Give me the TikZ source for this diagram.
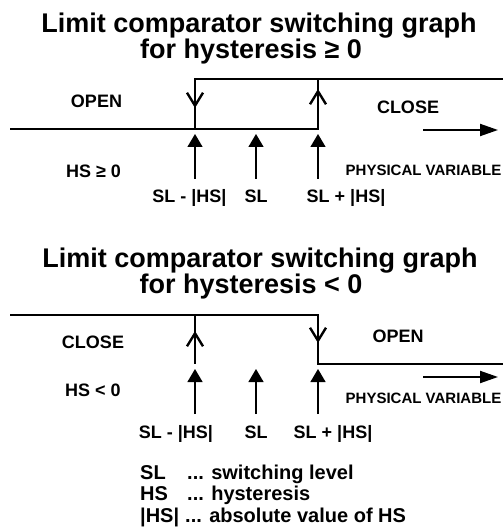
\documentclass[tikz,border=0pt]{standalone}
\usepackage{fontspec}
\setmainfont{Liberation Sans}
\usetikzlibrary{arrows.meta}

\tikzset{
  title/.style={font=\fontsize{27}{31}\selectfont\bfseries, anchor=base, inner sep=0pt},
  lbl/.style={font=\fontsize{18}{21}\selectfont\bfseries, anchor=base, inner sep=0pt},
  small/.style={font=\fontsize{15}{18}\selectfont\bfseries, anchor=base, inner sep=0pt},
  key/.style={font=\fontsize{20}{23}\selectfont\bfseries, anchor=base west, inner sep=0pt},
  level/.style={line width=2.4pt, line join=miter},
  barb/.style={line width=2.4pt, -{Straight Barb[length=13pt,width=16pt]}},
  pointer/.style={line width=1.3pt, -{Triangle[length=13pt,width=15pt]}},
  axis/.style={line width=2pt, -{Triangle[length=18pt,width=12pt]}}
}

\begin{document}
\begin{tikzpicture}[x=1pt, y=-1pt]
        \useasboundingbox (0,0) rectangle (503,529);
        % hysteresis >= 0
        \node[title] (T1) at (259,33) {Limit comparator switching graph};
        \node[title] (T2) at (251,59) {for hysteresis ≥ 0};
        \coordinate (A1) at (10,129);
        \coordinate (A2) at (195,129);
        \coordinate (A3) at (318,129);
        \coordinate (B2) at (195,79);
        \coordinate (B3) at (318,79);
        \coordinate (B4) at (503,79);
        \draw[level] (A1) -- (A3) -- (B3);
        \draw[level] (A2) -- (B2) -- (B4);
        \draw[barb] (195,94) -- (195,108);
        \draw[barb] (318,103) -- (318,89);
        \node[lbl] (open1) at (96.5,108) {OPEN};
        \node[lbl] (close1) at (408,113.5) {CLOSE};
        \node[lbl] (hs1) at (93.5,178) {HS ≥ 0};
        \coordinate (P1) at (423,130);
        \coordinate (P2) at (498,130);
        \draw[axis] (P1) -- (P2);
        \node[small] (var1) at (423.5,175.5) {PHYSICAL VARIABLE};
        \foreach \x in {195,256,318}
          \draw[pointer] (\x,179) -- (\x,134);
        \node[lbl] (lo1) at (189.5,203) {SL - |HS|};
        \node[lbl] (sl1) at (256,203) {SL};
        \node[lbl] (hi1) at (346,203) {SL + |HS|};
        % hysteresis < 0
        \node[title] (T3) at (260,267) {Limit comparator switching graph};
        \node[title] (T4) at (251,293) {for hysteresis < 0};
        \coordinate (C1) at (10,315);
        \coordinate (C2) at (195,315);
        \coordinate (C3) at (318,315);
        \coordinate (D2) at (195,364);
        \coordinate (D3) at (318,364);
        \coordinate (D4) at (503,364);
        \draw[level] (C1) -- (C3) -- (D3) -- (D4);
        \draw[level] (C2) -- (D2);
        \draw[barb] (195,345) -- (195,331);
        \draw[barb] (318,329) -- (318,343);
        \node[lbl] (close2) at (93,348.5) {CLOSE};
        \node[lbl] (open2) at (398,342.5) {OPEN};
        \node[lbl] (hs2) at (93,396.5) {HS < 0};
        \coordinate (Q1) at (423,377);
        \coordinate (Q2) at (498,377);
        \draw[axis] (Q1) -- (Q2);
        \node[small] (var2) at (423.5,403.5) {PHYSICAL VARIABLE};
        \foreach \x in {195,256,318}
          \draw[pointer] (\x,414) -- (\x,369);
        \node[lbl] (lo2) at (176,438) {SL - |HS|};
        \node[lbl] (sl2) at (256,438) {SL};
        \node[lbl] (hi2) at (333,438) {SL + |HS|};
        % legend
        \node[key] (k1) at (140,479) {SL};
        \node[key] (k2) at (140,500.5) {HS};
        \node[key] (k3) at (140,522) {|HS|};
        \node[key] (d1) at (187,479) {... switching level};
        \node[key] (d2) at (187,500.5) {... hysteresis};
        \node[key] (d3) at (185,522) {... absolute value of HS};
      \end{tikzpicture}
\end{document}
